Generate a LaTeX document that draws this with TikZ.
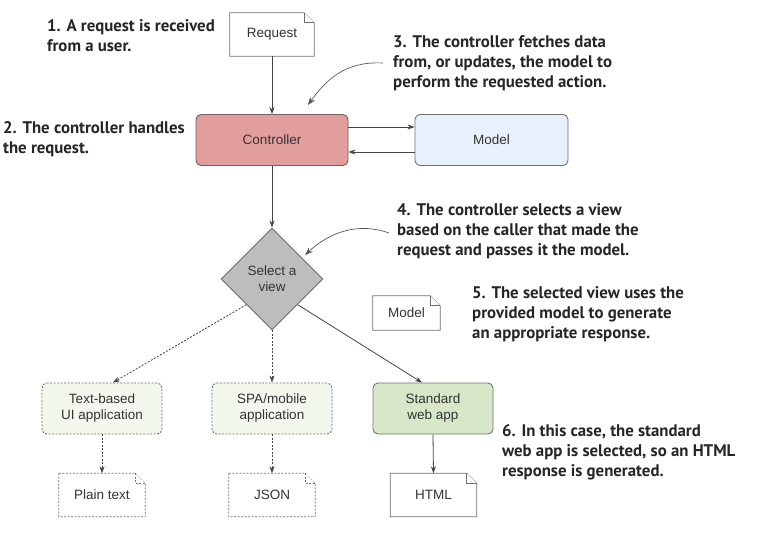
\documentclass[tikz,border=0pt]{standalone}
\usepackage{fontspec}
\setmainfont{Liberation Sans}
\newfontfamily\annofont{PT Sans}
\usetikzlibrary{arrows.meta,shapes.geometric}
\definecolor{ctrlfill}{HTML}{E29D9D}
\definecolor{ctrlline}{HTML}{7A5C5C}
\definecolor{modelfill}{HTML}{E8F0FB}
\definecolor{boxline}{HTML}{707070}
\definecolor{diafill}{HTML}{BDBDBD}
\definecolor{webfill}{HTML}{D6E8C7}
\definecolor{webline}{HTML}{6E7A66}
\definecolor{palefill}{HTML}{F2F8EC}
\definecolor{txt}{HTML}{333333}
\definecolor{arr}{HTML}{444444}
\newcommand\docoutline[2]{%
  \draw[#2] (#1.north west) -- ([xshift=-10pt]#1.north east) -- ([yshift=-10pt]#1.north east) -- (#1.south east) -- (#1.south west) -- cycle;
  \draw[#2] ([xshift=-10pt]#1.north east) |- ([yshift=-10pt]#1.north east);}
\tikzset{
  x=1pt, y=-1pt,
  lbl/.style={font=\fontsize{13.5}{16}\selectfont, text=txt, align=center, inner sep=0pt},
  box/.style={lbl, rounded corners=5pt, draw=boxline, line width=0.9pt},
  doc/.style={lbl, draw=none, minimum width=85pt, minimum height=43pt},
  anno/.style={font=\annofont\bfseries\fontsize{16.8}{20}\selectfont, text=black!85, align=left, anchor=north west, inner sep=0pt},
  arrowline/.style={draw=arr, line width=0.8pt, -{Stealth[length=7pt,width=5pt]}},
  dashline/.style={arrowline, dash pattern=on 2pt off 1.5pt},
  curvearrow/.style={draw=gray!70!black, line width=0.7pt, -{Stealth[length=8pt,width=6pt]}},
}
\begin{document}
\begin{tikzpicture}
\useasboundingbox[fill=white] (0,0) rectangle (762,537);
% documents
\node[doc, minimum width=84pt] (req) at (272,34.5) {Request};
\docoutline{req}{draw=boxline, line width=0.8pt, fill=white}
\node[doc, minimum width=84pt] at (272,34.5) {Request};
% controller and model
\node[box, fill=ctrlfill, draw=ctrlline, minimum width=152pt, minimum height=51pt] (ctrl) at (272,140) {Controller};
\node[box, fill=modelfill, minimum width=153pt, minimum height=51pt] (model) at (491.5,140) {Model};
\draw[arrowline] ([yshift=13pt]ctrl.east) -- ([yshift=13pt]model.west);
\draw[arrowline] ([yshift=-12pt]model.west) -- ([yshift=-12pt]ctrl.east);
\draw[arrowline] (req.south) -- (ctrl.north);
% diamond
\node[diamond, lbl, fill=diafill, draw=boxline, line width=0.9pt, minimum width=102pt, minimum height=102pt, aspect=1] (sel) at (272,279) {Select a\\view};
\draw[arrowline] (ctrl.south) -- (sel.north);
% model doc
\node[doc, minimum width=67pt, minimum height=34pt] (mdoc) at (406.5,313) {};
\docoutline{mdoc}{draw=boxline, line width=0.8pt, fill=white}
\node[lbl] at (mdoc.center) {Model};
% view boxes
\node[box, fill=palefill, dash pattern=on 2pt off 1.5pt, minimum width=120pt, minimum height=51pt] (tui) at (102,408.5) {Text-based\\UI application};
\node[box, fill=palefill, dash pattern=on 2pt off 1.5pt, minimum width=120pt, minimum height=51pt] (spa) at (272,408.5) {SPA/mobile\\application};
\node[box, fill=webfill, draw=webline, minimum width=120pt, minimum height=51pt] (web) at (433,408.5) {Standard\\web app};
\draw[dashline] (sel.south west) -- ([xshift=11pt]tui.north);
\draw[dashline] (sel.south) -- (spa.north);
\draw[arrowline] (sel.south east) -- ([xshift=-11pt]web.north);
% output docs
\node[doc, minimum width=86pt] (plain) at (102,495) {};
\docoutline{plain}{draw=boxline, line width=0.8pt, dash pattern=on 2pt off 1.5pt, fill=white}
\node[lbl] at (plain.center) {Plain text};
\node[doc, minimum width=86pt] (json) at (272,495) {};
\docoutline{json}{draw=boxline, line width=0.8pt, dash pattern=on 2pt off 1.5pt, fill=white}
\node[lbl] at (json.center) {JSON};
\node[doc, minimum width=86pt] (html) at (433.5,495) {};
\docoutline{html}{draw=boxline, line width=0.8pt, fill=white}
\node[lbl] at (html.center) {HTML};
\draw[dashline] (tui.south) -- (plain.north);
\draw[dashline] (spa.south) -- (json.north);
\draw[arrowline] (web.south) -- (html.north);
% annotations
\node[anno] (a1) at (47,19) {1. A request is received\\from a user.};
\node[anno] (a2) at (3,121) {2. The controller handles\\the request.};
\node[anno] (a3) at (393,35) {3. The controller fetches data\\from, or updates, the model to\\perform the requested action.};
\node[anno] (a4) at (397,203) {4. The controller selects a view\\based on the caller that made the\\request and passes it the model.};
\node[anno] (a5) at (472,286) {5. The selected view uses the\\provided model to generate\\an appropriate response.};
\node[anno] (a6) at (502,424) {6. In this case, the standard\\web app is selected, so an HTML\\response is generated.};
\coordinate (c3s) at (383,63);
\coordinate (c3e) at (308,105);
\draw[curvearrow] (c3s) .. controls (345,61) and (326,80) .. (c3e);
\coordinate (c4s) at (389,233);
\coordinate (c4e) at (305,255);
\draw[curvearrow] (c4s) .. controls (358,222) and (330,232) .. (c4e);
\end{tikzpicture}
\end{document}
